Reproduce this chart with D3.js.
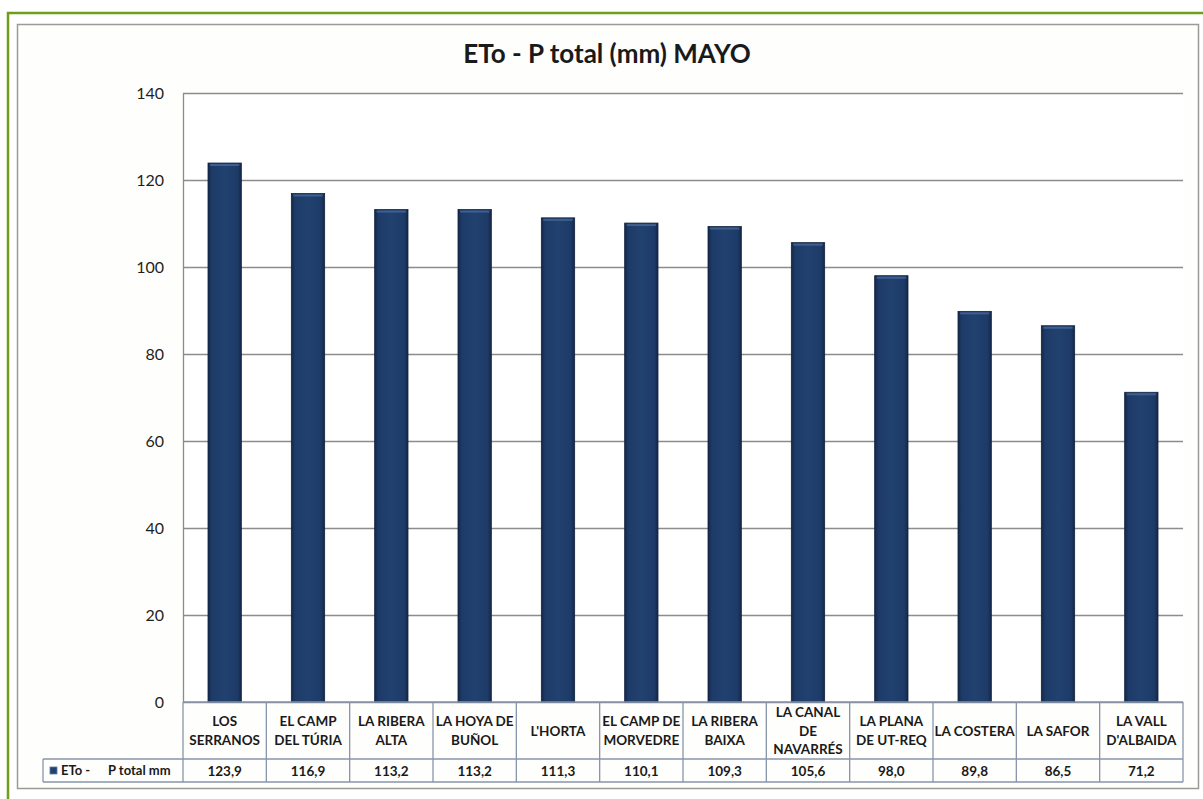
<!DOCTYPE html>
<html>
<head>
<meta charset="utf-8">
<script src="https://cdn.jsdelivr.net/npm/d3@7"></script>
<style>
  body { margin: 0; background: #fff; }
  svg { display: block; }
</style>
</head>
<body>
<div id="chart"></div>
<script>
// data
const categories = ["LOS SERRANOS", "EL CAMP DEL TÚRIA", "LA RIBERA ALTA", "LA HOYA DE BUÑOL",
    "L'HORTA", "EL CAMP DE MORVEDRE", "LA RIBERA BAIXA", "LA CANAL DE NAVARRÉS",
    "LA PLANA DE UT-REQ", "LA COSTERA", "LA SAFOR", "LA VALL D'ALBAIDA"];
const categoryLines = [["LOS", "SERRANOS"], ["EL CAMP", "DEL TÚRIA"], ["LA RIBERA", "ALTA"],
    ["LA HOYA DE", "BUÑOL"], ["L'HORTA"], ["EL CAMP DE", "MORVEDRE"], ["LA RIBERA", "BAIXA"],
    ["LA CANAL", "DE", "NAVARRÉS"], ["LA PLANA", "DE UT-REQ"], ["LA COSTERA"], ["LA SAFOR"],
    ["LA VALL", "D'ALBAIDA"]];
const values = [123.9, 116.9, 113.2, 113.2, 111.3, 110.1, 109.3, 105.6, 98.0, 89.8, 86.5, 71.2];
const yTicks = [0, 20, 40, 60, 80, 100, 120, 140];
const seriesName = ["ETo -", "P total mm"];
const title = "ETo - P total (mm) MAYO";

const W = 1203, H = 799;
const plotLeft = 183, plotRight = 1183, plotTop = 93, plotBottom = 702;
const row1Bottom = 759, row2Bottom = 782, legendLeft = 43;
const font = "Lato, 'Open Sans', sans-serif";

const fmt = d3.formatLocale({decimal: ",", thousands: ".", grouping: [3], currency: ["", "€"]}).format(".1f");

const svg = d3.select("#chart").append("svg")
    .attr("width", W)
    .attr("height", H);

const defs = svg.append("defs");
const grad = defs.append("linearGradient").attr("id", "barGrad")
    .attr("x1", "0").attr("x2", "1").attr("y1", "0").attr("y2", "0");
grad.append("stop").attr("offset", "0%").attr("stop-color", "#14284a");
grad.append("stop").attr("offset", "12%").attr("stop-color", "#1e3b68");
grad.append("stop").attr("offset", "50%").attr("stop-color", "#21416f");
grad.append("stop").attr("offset", "88%").attr("stop-color", "#1e3b68");
grad.append("stop").attr("offset", "100%").attr("stop-color", "#14284a");

// outer green frame and inner gray frame
svg.append("rect")
    .attr("x", 8).attr("y", 13).attr("width", W + 10).attr("height", H + 10)
    .attr("fill", "#fff").attr("stroke", "#6e9f1a").attr("stroke-width", 2.5);
svg.append("rect")
    .attr("x", 17.5).attr("y", 24.5).attr("width", 1181).attr("height", 764)
    .attr("fill", "#fefefc").attr("stroke", "#9a9a96").attr("stroke-width", 1.5);

svg.append("text")
    .attr("x", 607)
    .attr("y", 63)
    .attr("text-anchor", "middle")
    .style("font-family", font)
    .style("font-weight", "bold")
    .style("font-size", "26px")
    .style("fill", "#1a1a1a")
    .text(title);

const x = d3.scaleBand().domain(categories).range([plotLeft, plotRight])
    .paddingInner(0.6).paddingOuter(0.3);
const xCol = d3.scaleBand().domain(categories).range([plotLeft, plotRight]);
const y = d3.scaleLinear().domain([0, 140]).range([plotBottom, plotTop]);

svg.append("rect")
    .attr("x", plotLeft).attr("y", plotTop)
    .attr("width", plotRight - plotLeft).attr("height", plotBottom - plotTop)
    .attr("fill", "#fff");

// gridlines
const grid = svg.append("g")
    .attr("transform", "translate(" + plotLeft + ",0)")
    .call(d3.axisRight(y).tickValues(yTicks).tickSize(plotRight - plotLeft).tickFormat(""));
grid.select(".domain").remove();
grid.selectAll("line").attr("stroke", "#8c8c8c").attr("stroke-width", 1.3);

// y axis labels
const yAxis = svg.append("g")
    .attr("transform", "translate(" + plotLeft + ",0)")
    .call(d3.axisLeft(y).tickValues(yTicks).tickSize(0).tickPadding(19));
yAxis.select(".domain").attr("stroke", "#8c8c8c").attr("stroke-width", 1.3);
yAxis.selectAll("text")
    .style("font-family", font)
    .style("font-size", "16px")
    .style("fill", "#1e1e1e");

// bars
svg.append("g").selectAll("rect")
    .data(values)
    .join("rect")
    .attr("x", (d, i) => x(categories[i]))
    .attr("y", d => y(d))
    .attr("width", x.bandwidth())
    .attr("height", d => y(0) - y(d))
    .attr("fill", "url(#barGrad)")
    .attr("stroke", "#10223f")
    .attr("stroke-width", 0.8);
svg.append("g").selectAll("rect")
    .data(values)
    .join("rect")
    .attr("x", (d, i) => x(categories[i]) + 2)
    .attr("y", d => y(d) + 1)
    .attr("width", x.bandwidth() - 4)
    .attr("height", 2)
    .attr("fill", "#4d6d9c")
    .attr("opacity", 0.7);

// data table
const tbl = svg.append("g");
const lineColor = "#8795ab";
tbl.append("line").attr("x1", plotLeft).attr("x2", plotRight)
    .attr("y1", plotBottom).attr("y2", plotBottom);
tbl.append("line").attr("x1", legendLeft).attr("x2", plotRight)
    .attr("y1", row1Bottom).attr("y2", row1Bottom);
tbl.append("line").attr("x1", legendLeft).attr("x2", plotRight)
    .attr("y1", row2Bottom).attr("y2", row2Bottom);
tbl.append("line").attr("x1", legendLeft).attr("x2", legendLeft)
    .attr("y1", row1Bottom).attr("y2", row2Bottom);
tbl.selectAll("line.col")
    .data(categories.concat(["end"]))
    .join("line")
    .attr("class", "col")
    .attr("x1", (d, i) => i < categories.length ? xCol(d) : plotRight)
    .attr("x2", (d, i) => i < categories.length ? xCol(d) : plotRight)
    .attr("y1", plotBottom).attr("y2", row2Bottom);
tbl.selectAll("line").attr("stroke", lineColor).attr("stroke-width", 1.3);

// category labels
const catText = tbl.selectAll("text.cat")
    .data(categoryLines)
    .join("text")
    .attr("class", "cat")
    .attr("text-anchor", "middle")
    .style("font-family", font)
    .style("font-weight", "bold")
    .style("font-size", "13.5px")
    .style("fill", "#1a1a1a");
catText.each(function(lines, i) {
    const cx = xCol(categories[i]) + xCol.bandwidth() / 2;
    const lh = 18.5;
    const y0 = (plotBottom + row1Bottom) / 2 - (lines.length - 1) * lh / 2 + 5;
    d3.select(this).selectAll("tspan")
        .data(lines)
        .join("tspan")
        .attr("x", cx)
        .attr("y", (l, j) => y0 + j * lh)
        .text(l => l);
});

// value row
tbl.selectAll("text.val")
    .data(values)
    .join("text")
    .attr("class", "val")
    .attr("x", (d, i) => xCol(categories[i]) + xCol.bandwidth() / 2)
    .attr("y", (row1Bottom + row2Bottom) / 2 + 5)
    .attr("text-anchor", "middle")
    .style("font-family", font)
    .style("font-weight", "bold")
    .style("font-size", "13.5px")
    .style("fill", "#1a1a1a")
    .text(d => fmt(d));

// legend key
tbl.append("rect")
    .attr("x", 50).attr("y", (row1Bottom + row2Bottom) / 2 - 3.5)
    .attr("width", 7).attr("height", 7)
    .attr("fill", "#21416f").attr("stroke", "#5a7aa8").attr("stroke-width", 0.8);
tbl.selectAll("text.leg")
    .data(seriesName)
    .join("text")
    .attr("class", "leg")
    .attr("x", (d, i) => i === 0 ? 61 : 108)
    .attr("y", (row1Bottom + row2Bottom) / 2 + 4.5)
    .style("font-family", font)
    .style("font-weight", "bold")
    .style("font-size", "13px")
    .style("fill", "#1a1a1a")
    .text(d => d);
</script>
</body>
</html>
